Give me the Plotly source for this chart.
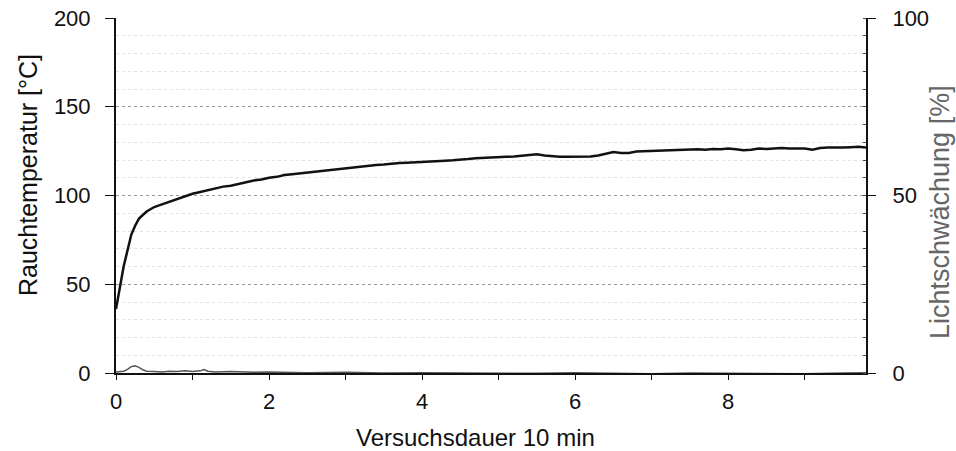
import plotly.graph_objects as go

# --- data ---
time_min = [0, 0.02, 0.05, 0.1, 0.15, 0.2, 0.25, 0.3, 0.4, 0.5, 0.6, 0.7, 0.8, 0.9,
            1.0, 1.1, 1.2, 1.3, 1.4, 1.5, 1.6, 1.7, 1.8, 1.9,
            2.0, 2.1, 2.2, 2.3, 2.4, 2.5, 2.6, 2.7, 2.8, 2.9,
            3.0, 3.1, 3.2, 3.3, 3.4, 3.5, 3.6, 3.7, 3.8, 3.9,
            4.0, 4.1, 4.2, 4.3, 4.4, 4.5, 4.6, 4.7, 4.8, 4.9,
            5.0, 5.1, 5.2, 5.3, 5.4, 5.5, 5.6, 5.7, 5.8, 5.9,
            6.0, 6.1, 6.2, 6.3, 6.4, 6.5, 6.6, 6.7, 6.8, 6.9,
            7.0, 7.1, 7.2, 7.3, 7.4, 7.5, 7.6, 7.7, 7.8, 7.9,
            8.0, 8.1, 8.2, 8.3, 8.4, 8.5, 8.6, 8.7, 8.8, 8.9,
            9.0, 9.1, 9.2, 9.3, 9.4, 9.5, 9.6, 9.7, 9.8]
rauchtemperatur = [36, 40, 48, 60, 70, 78, 83, 87, 91, 93.5, 95, 96.5, 98, 99.5,
                   101, 102, 103, 104, 105, 105.5, 106.5, 107.5, 108.5, 109,
                   110, 110.5, 111.5, 112, 112.5, 113, 113.5, 114, 114.5, 115,
                   115.5, 115.8, 116.5, 117, 117.2, 117.5, 118, 118.3, 118.5, 118.8,
                   119, 119.2, 119.5, 119.6, 119.8, 120, 120.5, 121, 121.3, 121.5,
                   121.5, 121.8, 122, 122.5, 123, 123.2, 122.5, 122, 121.8, 121.8,
                   121.8, 121.8, 122, 122.5, 123.5, 124.5, 124, 124, 124.8, 125,
                   125.2, 125.3, 125.5, 125.5, 125.8, 126, 126, 125.8, 126.2, 126,
                   126.5, 126, 125.5, 125.8, 126.5, 126.2, 126.5, 126.8, 126.5, 126.3,
                   126.5, 125.8, 126.8, 127, 126.8, 127, 127.2, 127.5, 127]

licht_time = [0, 0.1, 0.15, 0.2, 0.25, 0.3, 0.35, 0.4, 0.5, 0.6, 0.7, 0.8, 0.9, 1.0,
              1.1, 1.15, 1.2, 1.3, 1.5, 1.8, 2.0, 2.5, 3.0, 3.5, 4.0, 4.5, 5.0,
              5.5, 6.0, 6.5, 7.0, 7.5, 8.0, 8.5, 9.0, 9.5, 9.8]
lichtschwaechung = [0.3, 0.5, 1.0, 1.8, 2.0, 1.6, 0.9, 0.5, 0.4, 0.3, 0.5, 0.4, 0.6, 0.4,
                    0.6, 1.0, 0.5, 0.3, 0.4, 0.2, 0.3, 0.1, 0.2, 0.0, 0.1, 0.0, 0.1,
                    -0.1, 0.1, 0.0, -0.2, 0.0, -0.1, 0.0, -0.2, 0.0, 0.1]

x_ticks = [0, 2, 4, 6, 8]

fig = go.Figure()
fig.add_trace(go.Scatter(x=licht_time, y=lichtschwaechung, yaxis="y2", mode="lines",
                         line=dict(color="#555555", width=1.5), showlegend=False))
fig.add_trace(go.Scatter(x=time_min, y=rauchtemperatur, mode="lines",
                         line=dict(color="#111111", width=2.5), showlegend=False))

font = "Liberation Sans, Arial, sans-serif"
fig.update_layout(
    width=956, height=451,
    margin=dict(l=116, r=90, t=18, b=78, autoexpand=False),
    paper_bgcolor="white", plot_bgcolor="white",
    font=dict(family=font, size=22, color="#111111"),
    xaxis=dict(range=[0, 9.8], tickvals=x_ticks, ticks="outside", ticklen=5,
               tickcolor="#111", showline=True, linecolor="#111", linewidth=1.5,
               showgrid=False, zeroline=False, automargin=False,
               ticklabelstandoff=3, ticklabeloverflow="allow",
               minor=dict(dtick=1, ticks="outside", ticklen=5, tickcolor="#111"),
               tickfont=dict(size=22)),
    yaxis=dict(range=[0, 200], dtick=50, ticks="outside", ticklen=9, tickcolor="#111",
               showline=True, linecolor="#111", linewidth=2, automargin=False,
               showgrid=True, gridcolor="#999", griddash="dot", gridwidth=1,
               zeroline=False, ticklabelstandoff=10, ticklabeloverflow="allow",
               minor=dict(dtick=10, showgrid=True, gridcolor="#e2e2e2", griddash="dot"),
               tickfont=dict(size=22)),
    yaxis2=dict(range=[0, 100], dtick=50, overlaying="y", side="right",
                anchor="x", ticks="outside", ticklen=8, tickcolor="#111",
                showline=True, linecolor="#111", linewidth=2, showgrid=False,
                zeroline=False, automargin=False, ticklabelstandoff=12,
                ticklabeloverflow="allow",
                minor=dict(dtick=5, ticks="inside", ticklen=3, tickcolor="#444"),
                tickfont=dict(size=22)),
    annotations=[
        dict(text="Versuchsdauer 10 min", xref="paper", yref="paper",
             x=(475 - 116) / 750, y=-(437 - 373) / 355, xanchor="center", yanchor="middle",
             showarrow=False, font=dict(size=24, color="#111")),
        dict(text="Rauchtemperatur [°C]", xref="paper", yref="paper",
             x=-(116 - 28) / 750, y=(373 - 175) / 355, xanchor="center", yanchor="middle",
             textangle=-90, showarrow=False, font=dict(size=25, color="#111")),
        dict(text="Lichtschwächung [%]", xref="paper", yref="paper",
             x=1 + (940 - 866) / 750, y=(373 - 212) / 355, xanchor="center", yanchor="middle",
             textangle=-90, showarrow=False, font=dict(size=27, color="#666")),
    ],
)

fig.write_html("out.html", config={"displayModeBar": False},
               post_script="document.body.style.margin='0';document.body.style.overflow='hidden';")
